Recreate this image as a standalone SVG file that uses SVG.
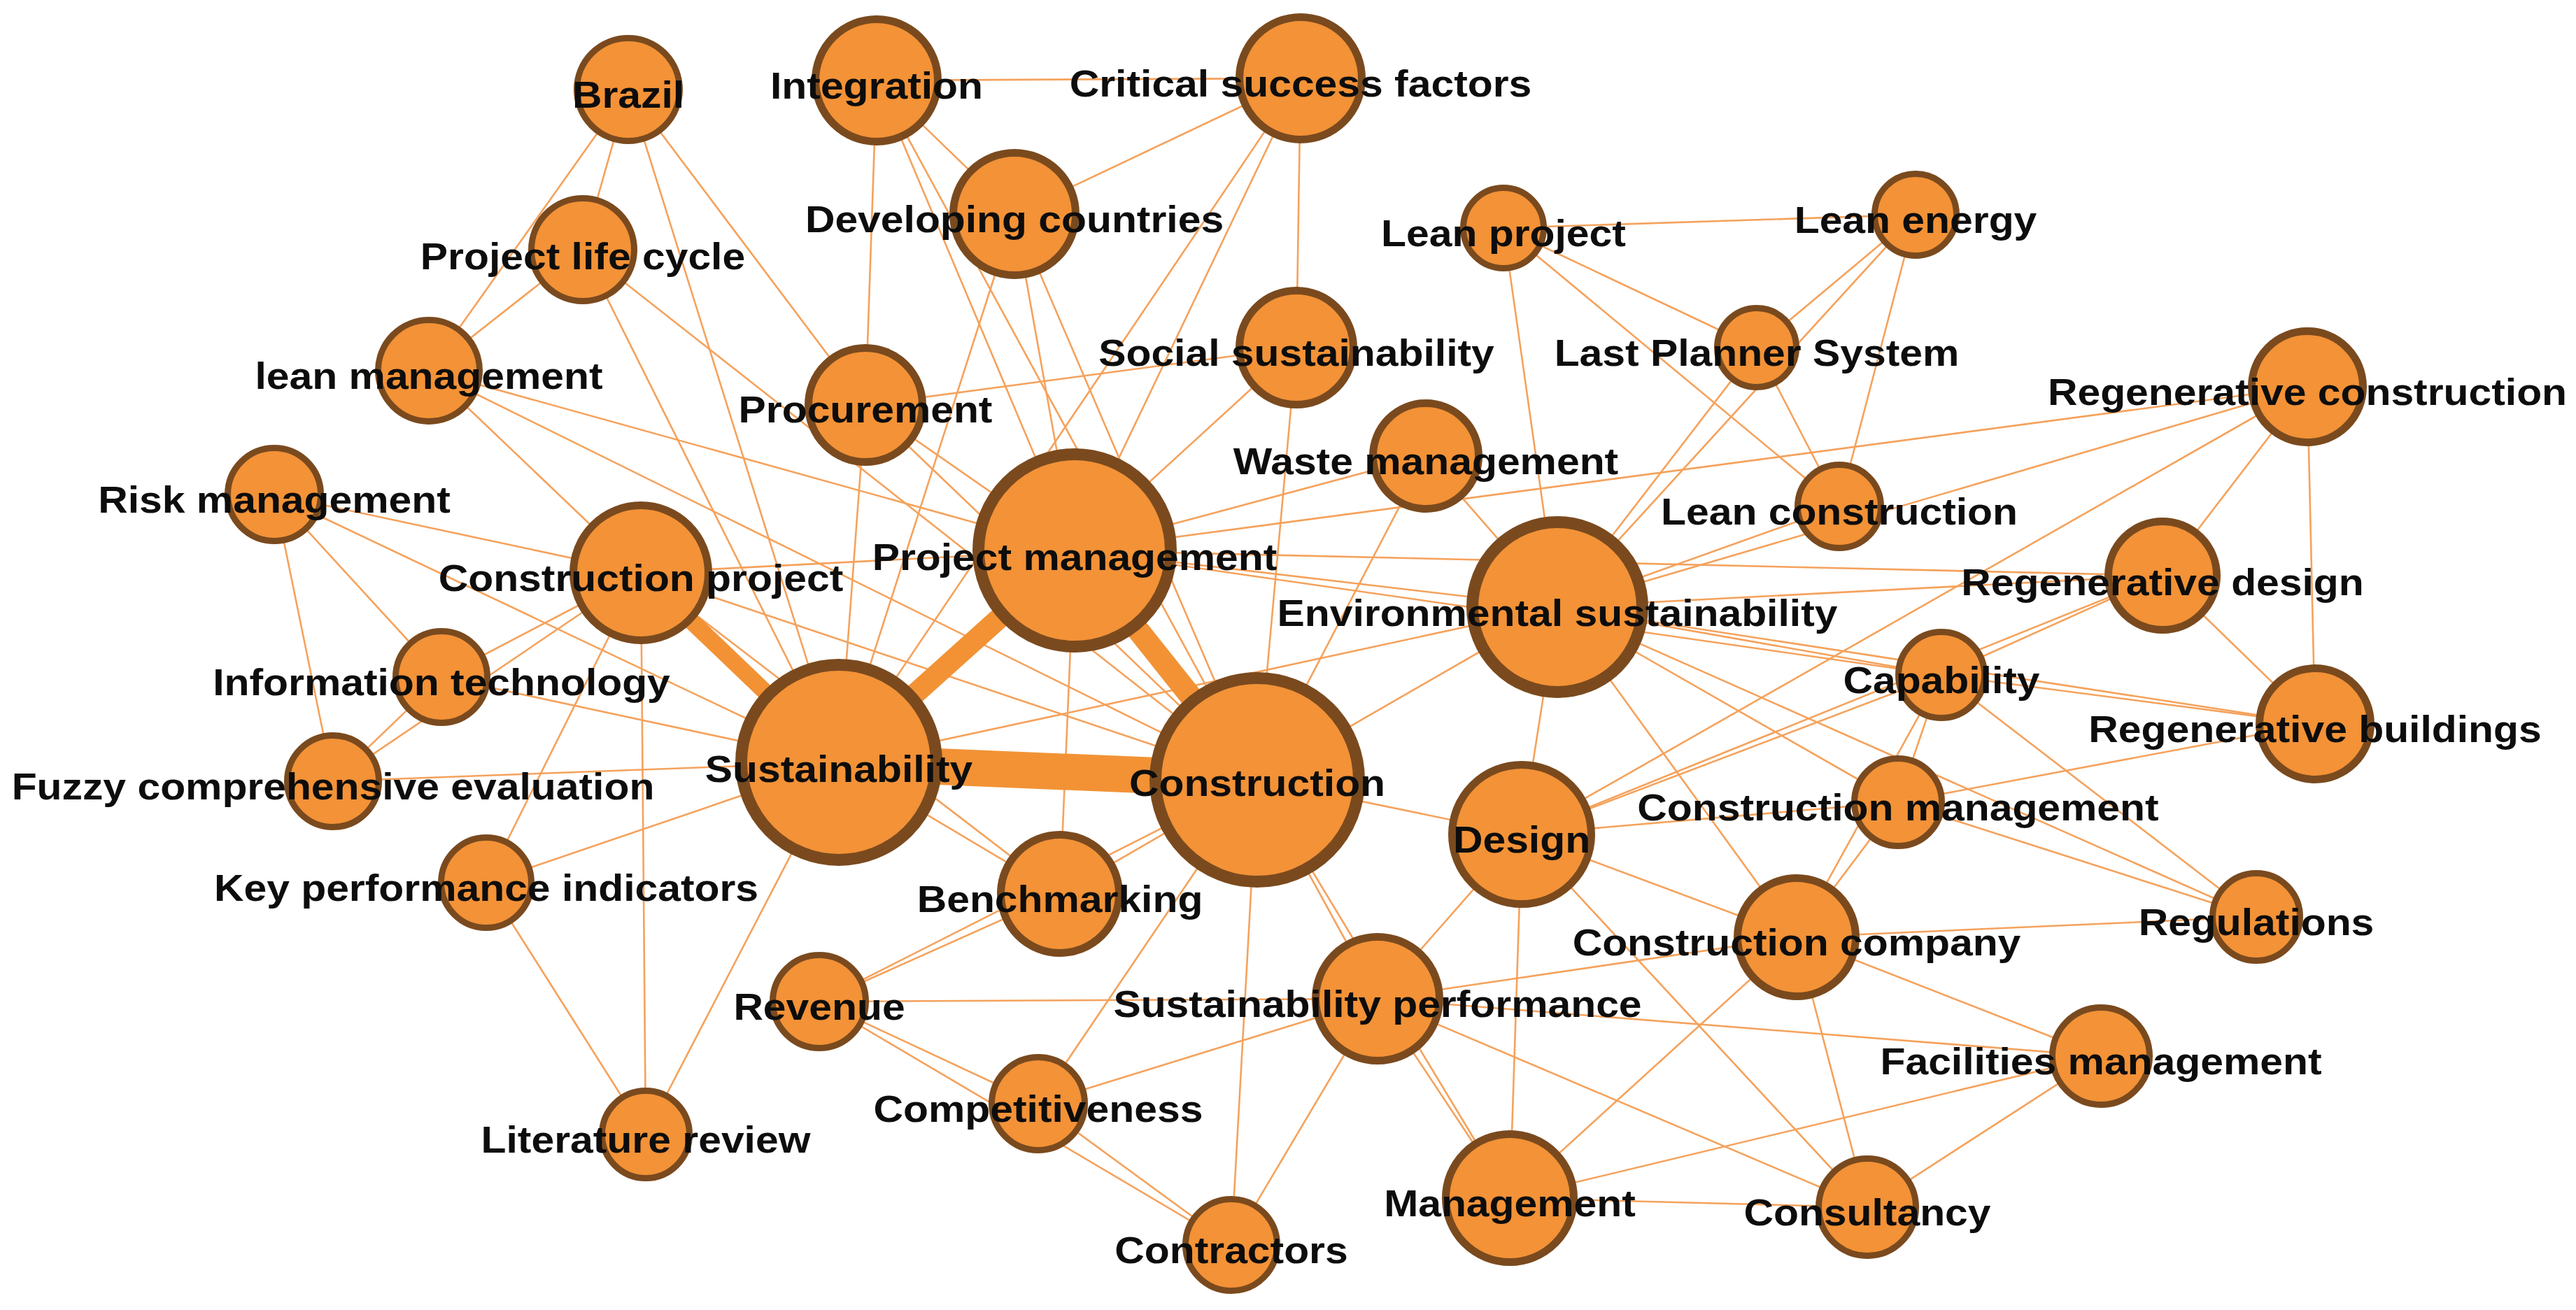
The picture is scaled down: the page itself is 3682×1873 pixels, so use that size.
<svg xmlns="http://www.w3.org/2000/svg" width="3682" height="1873" viewBox="0 0 3682 1873">
<style>
.bg{fill:#ffffff}
.e line{stroke:#F5A25C;stroke-width:2.6;stroke-linecap:round}
.t line{stroke:#F29235;stroke-linecap:butt}
.node circle{fill:#F39237;stroke:#7A4A1E}
.s circle{stroke-width:9}
.m circle{stroke-width:11}
.l circle{stroke-width:17}
.node text{font-family:"Liberation Sans",Arial,Helvetica,sans-serif;font-weight:bold;font-size:53.5px;fill:#0d0d0d;text-anchor:middle}
</style>
<rect class="bg" x="0" y="0" width="3682" height="1873"/>
<g id="connectors">
<g class="e">
<!-- Brazil -->
<line x1="898" y1="128" x2="833" y2="357"/>
<line x1="898" y1="128" x2="613" y2="530"/>
<line x1="898" y1="128" x2="1199" y2="1090"/>
<line x1="898" y1="128" x2="1237" y2="579"/>
<!-- PLC -->
<line x1="833" y1="357" x2="613" y2="530"/>
<line x1="833" y1="357" x2="1199" y2="1090"/>
<line x1="833" y1="357" x2="1797" y2="1115"/>
<!-- lean mgmt -->
<line x1="613" y1="530" x2="916" y2="819"/>
<line x1="613" y1="530" x2="1797" y2="1115"/>
<line x1="613" y1="530" x2="1536" y2="787"/>
<!-- risk -->
<line x1="392" y1="707" x2="916" y2="819"/>
<line x1="392" y1="707" x2="1199" y2="1090"/>
<line x1="392" y1="707" x2="631" y2="968"/>
<line x1="392" y1="707" x2="476" y2="1117"/>
<!-- IT / FCE -->
<line x1="631" y1="968" x2="476" y2="1117"/>
<line x1="631" y1="968" x2="916" y2="819"/>
<line x1="631" y1="968" x2="1199" y2="1090"/>
<line x1="476" y1="1117" x2="916" y2="819"/>
<line x1="476" y1="1117" x2="1199" y2="1090"/>
<!-- KPI / LR -->
<line x1="695" y1="1262" x2="1199" y2="1090"/>
<line x1="695" y1="1262" x2="916" y2="819"/>
<line x1="695" y1="1262" x2="923" y2="1622"/>
<line x1="923" y1="1622" x2="916" y2="819"/>
<line x1="923" y1="1622" x2="1199" y2="1090"/>
<!-- CP -->
<line x1="916" y1="819" x2="1536" y2="787"/>
<line x1="916" y1="819" x2="1797" y2="1115"/>
<line x1="916" y1="819" x2="1515" y2="1278"/>
<!-- Integration -->
<line x1="1253" y1="115" x2="1859" y2="112"/>
<line x1="1253" y1="115" x2="1450" y2="306"/>
<line x1="1253" y1="115" x2="1237" y2="579"/>
<line x1="1253" y1="115" x2="1536" y2="787"/>
<line x1="1253" y1="115" x2="1797" y2="1115"/>
<!-- CSF -->
<line x1="1859" y1="112" x2="1450" y2="306"/>
<line x1="1859" y1="112" x2="1853" y2="497"/>
<line x1="1859" y1="112" x2="1536" y2="787"/>
<line x1="1859" y1="112" x2="1199" y2="1090"/>
<!-- DC -->
<line x1="1450" y1="306" x2="1199" y2="1090"/>
<line x1="1450" y1="306" x2="1536" y2="787"/>
<line x1="1450" y1="306" x2="1797" y2="1115"/>
<!-- Procurement -->
<line x1="1237" y1="579" x2="1853" y2="497"/>
<line x1="1237" y1="579" x2="1536" y2="787"/>
<line x1="1237" y1="579" x2="1797" y2="1115"/>
<line x1="1237" y1="579" x2="1199" y2="1090"/>
<!-- SS -->
<line x1="1853" y1="497" x2="1536" y2="787"/>
<line x1="1853" y1="497" x2="1797" y2="1115"/>
<!-- WM -->
<line x1="2038" y1="652" x2="1536" y2="787"/>
<line x1="2038" y1="652" x2="2226" y2="868"/>
<line x1="2038" y1="652" x2="1797" y2="1115"/>
<!-- PM -->
<line x1="1536" y1="787" x2="2226" y2="868"/>
<line x1="1536" y1="787" x2="3298" y2="553"/>
<line x1="1536" y1="787" x2="3091" y2="823"/>
<line x1="1536" y1="787" x2="1515" y2="1278"/>
<line x1="1536" y1="787" x2="2775" y2="965"/>
<!-- Lean cluster -->
<line x1="2149" y1="326" x2="2738" y2="307"/>
<line x1="2149" y1="326" x2="2511" y2="497"/>
<line x1="2149" y1="326" x2="2629" y2="724"/>
<line x1="2149" y1="326" x2="2226" y2="868"/>
<line x1="2738" y1="307" x2="2511" y2="497"/>
<line x1="2738" y1="307" x2="2629" y2="724"/>
<line x1="2738" y1="307" x2="2226" y2="868"/>
<line x1="2511" y1="497" x2="2629" y2="724"/>
<line x1="2511" y1="497" x2="2226" y2="868"/>
<line x1="2629" y1="724" x2="2226" y2="868"/>
<!-- Regenerative -->
<line x1="3298" y1="553" x2="2226" y2="868"/>
<line x1="3298" y1="553" x2="3091" y2="823"/>
<line x1="3298" y1="553" x2="3309" y2="1035"/>
<line x1="3298" y1="553" x2="2175" y2="1193"/>
<line x1="3091" y1="823" x2="2226" y2="868"/>
<line x1="3091" y1="823" x2="3309" y2="1035"/>
<line x1="3091" y1="823" x2="2775" y2="965"/>
<line x1="3091" y1="823" x2="2175" y2="1193"/>
<!-- Capability -->
<line x1="2775" y1="965" x2="2226" y2="868"/>
<line x1="2775" y1="965" x2="3309" y2="1035"/>
<line x1="2775" y1="965" x2="2713" y2="1147"/>
<line x1="2775" y1="965" x2="2568" y2="1340"/>
<line x1="2775" y1="965" x2="3225" y2="1311"/>
<line x1="2775" y1="965" x2="2175" y2="1193"/>
<!-- RB / CM / REG -->
<line x1="3309" y1="1035" x2="2226" y2="868"/>
<line x1="3309" y1="1035" x2="2713" y2="1147"/>
<line x1="2713" y1="1147" x2="2226" y2="868"/>
<line x1="2713" y1="1147" x2="2175" y2="1193"/>
<line x1="2713" y1="1147" x2="3225" y2="1311"/>
<line x1="2713" y1="1147" x2="2568" y2="1340"/>
<line x1="3225" y1="1311" x2="2226" y2="868"/>
<line x1="3225" y1="1311" x2="2568" y2="1340"/>
<!-- Construction company -->
<line x1="2568" y1="1340" x2="2226" y2="868"/>
<line x1="2568" y1="1340" x2="2175" y2="1193"/>
<line x1="2568" y1="1340" x2="3003" y2="1510"/>
<line x1="2568" y1="1340" x2="2669" y2="1726"/>
<line x1="2568" y1="1340" x2="2158" y2="1713"/>
<line x1="2568" y1="1340" x2="1969" y2="1428"/>
<!-- FM / Consultancy / Management -->
<line x1="3003" y1="1510" x2="1969" y2="1428"/>
<line x1="3003" y1="1510" x2="2158" y2="1713"/>
<line x1="3003" y1="1510" x2="2669" y2="1726"/>
<line x1="2669" y1="1726" x2="2158" y2="1713"/>
<line x1="2669" y1="1726" x2="2175" y2="1193"/>
<line x1="2669" y1="1726" x2="1969" y2="1428"/>
<line x1="2158" y1="1713" x2="1969" y2="1428"/>
<line x1="2158" y1="1713" x2="2175" y2="1193"/>
<line x1="2158" y1="1713" x2="1797" y2="1115"/>
<!-- Sustainability performance -->
<line x1="1969" y1="1428" x2="2175" y2="1193"/>
<line x1="1969" y1="1428" x2="1797" y2="1115"/>
<line x1="1969" y1="1428" x2="1171" y2="1432"/>
<line x1="1969" y1="1428" x2="1484" y2="1578"/>
<line x1="1969" y1="1428" x2="1760" y2="1780"/>
<!-- bottom -->
<line x1="1760" y1="1780" x2="1484" y2="1578"/>
<line x1="1760" y1="1780" x2="1171" y2="1432"/>
<line x1="1760" y1="1780" x2="1797" y2="1115"/>
<line x1="1484" y1="1578" x2="1171" y2="1432"/>
<line x1="1484" y1="1578" x2="1797" y2="1115"/>
<line x1="1171" y1="1432" x2="1515" y2="1278"/>
<line x1="1171" y1="1432" x2="1797" y2="1115"/>
<line x1="1515" y1="1278" x2="1797" y2="1115"/>
<line x1="1515" y1="1278" x2="1199" y2="1090"/>
<!-- centre -->
<line x1="1199" y1="1090" x2="2226" y2="868"/>
<line x1="1797" y1="1115" x2="2226" y2="868"/>
<line x1="1797" y1="1115" x2="2175" y2="1193"/>
<line x1="2226" y1="868" x2="2175" y2="1193"/>
</g>
<g class="t">
<line x1="1199" y1="1090" x2="1797" y2="1115" stroke-width="52"/>
<line x1="1199" y1="1090" x2="1536" y2="787" stroke-width="30"/>
<line x1="1536" y1="787" x2="1797" y2="1115" stroke-width="32"/>
<line x1="916" y1="819" x2="1199" y2="1090" stroke-width="24"/>
</g>
</g>
<g id="n-brazil" class="node s"><circle cx="898" cy="128" r="73.5"/><text transform="translate(898 154) scale(1.1 1)">Brazil</text></g>
<g id="n-integration" class="node m"><circle cx="1253" cy="115" r="87.5"/><text transform="translate(1253 141) scale(1.1 1)">Integration</text></g>
<g id="n-csf" class="node m"><circle cx="1859" cy="112" r="87.5"/><text transform="translate(1859 138) scale(1.1 1)">Critical success factors</text></g>
<g id="n-developing-countries" class="node m"><circle cx="1450" cy="306" r="87.5"/><text transform="translate(1450 332) scale(1.1 1)">Developing countries</text></g>
<g id="n-project-life-cycle" class="node s"><circle cx="833" cy="357" r="73.5"/><text transform="translate(833 385) scale(1.1 1)">Project life cycle</text></g>
<g id="n-lean-management" class="node s"><circle cx="613" cy="530" r="72.5"/><text transform="translate(613 556) scale(1.1 1)">lean management</text></g>
<g id="n-risk-management" class="node s"><circle cx="392" cy="707" r="66.5"/><text transform="translate(392 733) scale(1.1 1)">Risk management</text></g>
<g id="n-construction-project" class="node m"><circle cx="916" cy="819" r="96.5"/><text transform="translate(916 845) scale(1.1 1)">Construction project</text></g>
<g id="n-procurement" class="node m"><circle cx="1237" cy="579" r="81.5"/><text transform="translate(1237 604) scale(1.1 1)">Procurement</text></g>
<g id="n-social-sustainability" class="node m"><circle cx="1853" cy="497" r="81.5"/><text transform="translate(1853 523) scale(1.1 1)">Social sustainability</text></g>
<g id="n-lean-project" class="node s"><circle cx="2149" cy="326" r="57.5"/><text transform="translate(2149 352) scale(1.1 1)">Lean project</text></g>
<g id="n-lean-energy" class="node s"><circle cx="2738" cy="307" r="58.5"/><text transform="translate(2738 333) scale(1.1 1)">Lean energy</text></g>
<g id="n-last-planner-system" class="node s"><circle cx="2511" cy="497" r="56.5"/><text transform="translate(2511 523) scale(1.1 1)">Last Planner System</text></g>
<g id="n-waste-management" class="node m"><circle cx="2038" cy="652" r="75.5"/><text transform="translate(2038 678) scale(1.1 1)">Waste management</text></g>
<g id="n-regenerative-construction" class="node m"><circle cx="3298" cy="553" r="79.5"/><text transform="translate(3298 579) scale(1.1 1)">Regenerative construction</text></g>
<g id="n-lean-construction" class="node s"><circle cx="2629" cy="724" r="59.5"/><text transform="translate(2629 750) scale(1.1 1)">Lean construction</text></g>
<g id="n-project-management" class="node l"><circle cx="1536" cy="787" r="137.5"/><text transform="translate(1536 815) scale(1.1 1)">Project management</text></g>
<g id="n-environmental-sustainability" class="node l"><circle cx="2226" cy="868" r="121.5"/><text transform="translate(2226 895) scale(1.1 1)">Environmental sustainability</text></g>
<g id="n-regenerative-design" class="node m"><circle cx="3091" cy="823" r="77.5"/><text transform="translate(3091 851) scale(1.1 1)">Regenerative design</text></g>
<g id="n-capability" class="node s"><circle cx="2775" cy="965" r="61.5"/><text transform="translate(2775 991) scale(1.1 1)">Capability</text></g>
<g id="n-information-technology" class="node s"><circle cx="631" cy="968" r="65.5"/><text transform="translate(631 994) scale(1.1 1)">Information technology</text></g>
<g id="n-regenerative-buildings" class="node m"><circle cx="3309" cy="1035" r="79.5"/><text transform="translate(3309 1061) scale(1.1 1)">Regenerative buildings</text></g>
<g id="n-fuzzy" class="node s"><circle cx="476" cy="1117" r="65.5"/><text transform="translate(476 1143) scale(1.1 1)">Fuzzy comprehensive evaluation</text></g>
<g id="n-sustainability" class="node l"><circle cx="1199" cy="1090" r="139.5"/><text transform="translate(1199 1118) scale(1.1 1)">Sustainability</text></g>
<g id="n-construction" class="node l"><circle cx="1797" cy="1115" r="145.5"/><text transform="translate(1797 1138) scale(1.1 1)">Construction</text></g>
<g id="n-design" class="node m"><circle cx="2175" cy="1193" r="99.5"/><text transform="translate(2175 1219) scale(1.1 1)">Design</text></g>
<g id="n-construction-management" class="node s"><circle cx="2713" cy="1147" r="62.5"/><text transform="translate(2713 1173) scale(1.1 1)">Construction management</text></g>
<g id="n-kpi" class="node s"><circle cx="695" cy="1262" r="64.5"/><text transform="translate(695 1288) scale(1.1 1)">Key performance indicators</text></g>
<g id="n-benchmarking" class="node m"><circle cx="1515" cy="1278" r="84.5"/><text transform="translate(1515 1304) scale(1.1 1)">Benchmarking</text></g>
<g id="n-construction-company" class="node m"><circle cx="2568" cy="1340" r="84.5"/><text transform="translate(2568 1366) scale(1.1 1)">Construction company</text></g>
<g id="n-regulations" class="node s"><circle cx="3225" cy="1311" r="62.5"/><text transform="translate(3225 1337) scale(1.1 1)">Regulations</text></g>
<g id="n-revenue" class="node s"><circle cx="1171" cy="1432" r="66.5"/><text transform="translate(1171 1458) scale(1.1 1)">Revenue</text></g>
<g id="n-sustainability-performance" class="node m"><circle cx="1969" cy="1428" r="88.5"/><text transform="translate(1969 1454) scale(1.1 1)">Sustainability performance</text></g>
<g id="n-facilities-management" class="node s"><circle cx="3003" cy="1510" r="69.5"/><text transform="translate(3003 1536) scale(1.1 1)">Facilities management</text></g>
<g id="n-competitiveness" class="node s"><circle cx="1484" cy="1578" r="66.5"/><text transform="translate(1484 1604) scale(1.1 1)">Competitiveness</text></g>
<g id="n-literature-review" class="node s"><circle cx="923" cy="1622" r="62.5"/><text transform="translate(923 1648) scale(1.1 1)">Literature review</text></g>
<g id="n-management" class="node m"><circle cx="2158" cy="1713" r="91.5"/><text transform="translate(2158 1739) scale(1.1 1)">Management</text></g>
<g id="n-consultancy" class="node s"><circle cx="2669" cy="1726" r="69.5"/><text transform="translate(2669 1752) scale(1.1 1)">Consultancy</text></g>
<g id="n-contractors" class="node s"><circle cx="1760" cy="1780" r="65.5"/><text transform="translate(1760 1806) scale(1.1 1)">Contractors</text></g>
</svg>
